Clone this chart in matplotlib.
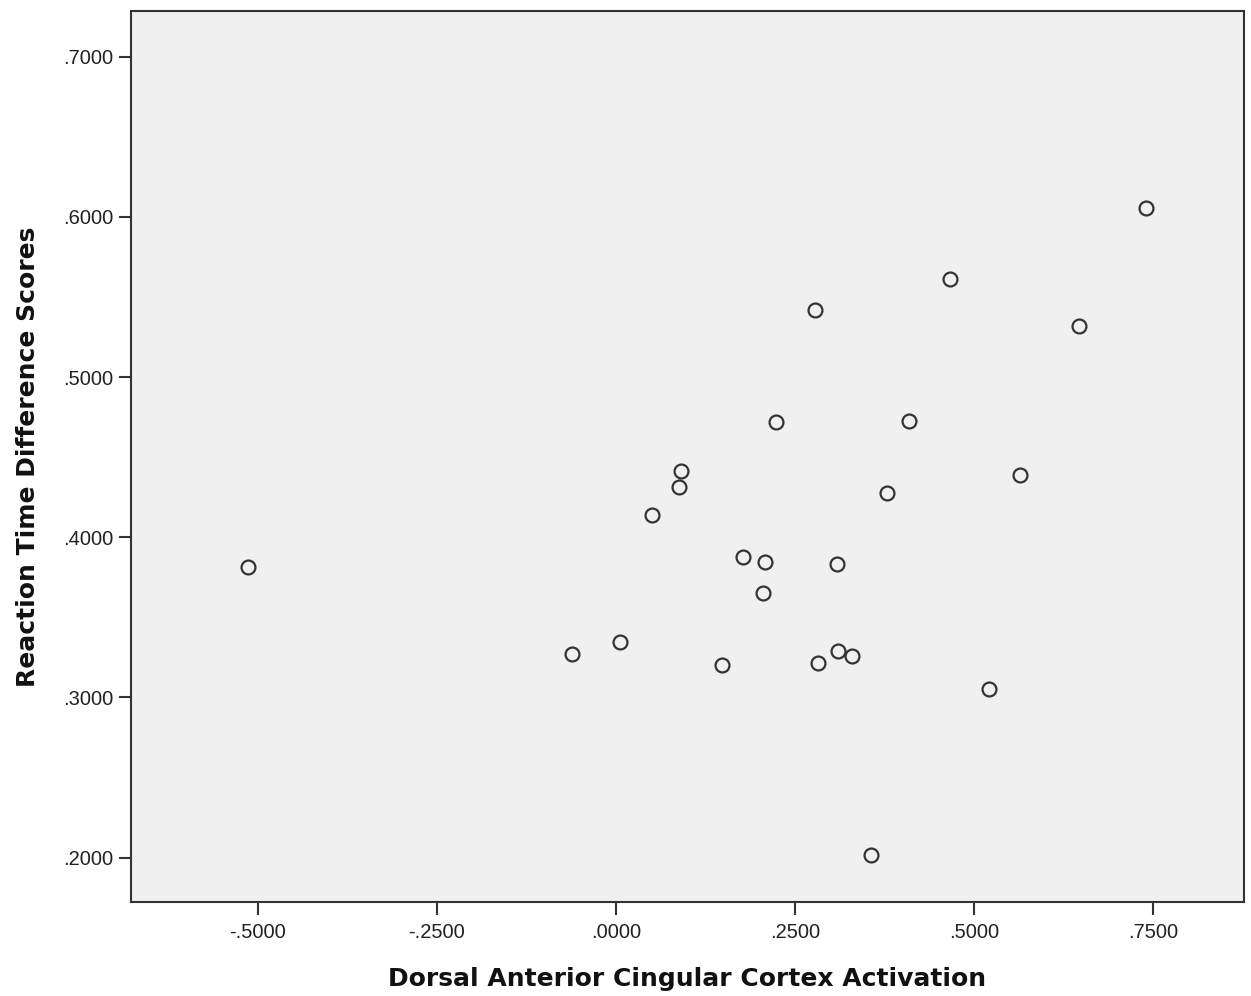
import matplotlib
matplotlib.use("Agg")
import matplotlib.pyplot as plt
from matplotlib.ticker import FixedLocator, FuncFormatter

dacc_activation = [-0.514, -0.0615, 0.0056, 0.0503, 0.0876, 0.0904, 0.1485, 0.1778,
                   0.2081, 0.2057, 0.2235, 0.2779, 0.2817, 0.3082, 0.3105, 0.3292,
                   0.3561, 0.3785, 0.4092, 0.4665, 0.5209, 0.5642, 0.6466, 0.7402]
rt_difference = [0.3815, 0.3270, 0.3348, 0.4139, 0.4316, 0.4412, 0.3203, 0.3879,
                 0.3844, 0.3652, 0.4720, 0.5419, 0.3213, 0.3833, 0.3292, 0.3259,
                 0.2017, 0.4277, 0.4726, 0.5612, 0.3053, 0.4389, 0.5319, 0.6056]

x_ticks = [-0.5, -0.25, 0.0, 0.25, 0.5, 0.75]
y_ticks = [0.2, 0.3, 0.4, 0.5, 0.6, 0.7]

def spss_fmt(v, pos=None):
    s = f"{v:.4f}"
    if s.startswith("-0"):
        return "-" + s[2:]
    if s.startswith("0"):
        return s[1:]
    return s

plt.rcParams['font.family'] = ['Liberation Sans', 'DejaVu Sans']

fig = plt.figure(figsize=(12.51, 9.96), dpi=100)
ax = fig.add_axes([131/1251, 94/996, (1244-131)/1251, (902-11)/996])
ax.set_facecolor('#f0f0f0')

ax.plot(dacc_activation, rt_difference, linestyle='none', marker='o',
        markersize=10, markerfacecolor='none', markeredgecolor='#333333',
        markeredgewidth=1.6)

ax.set_xlim(-0.677, 0.877)
ax.set_ylim(0.1723, 0.7285)
ax.xaxis.set_major_locator(FixedLocator(x_ticks))
ax.yaxis.set_major_locator(FixedLocator(y_ticks))
ax.xaxis.set_major_formatter(FuncFormatter(spss_fmt))
ax.yaxis.set_major_formatter(FuncFormatter(spss_fmt))

for sp in ax.spines.values():
    sp.set_color('#333333')
    sp.set_linewidth(1.5)
ax.tick_params(axis='both', direction='out', length=9, width=1.5, color='#333333',
               labelsize=14.5, labelcolor='#222222', pad=4)
ax.tick_params(axis='x', pad=6)

label_font = dict(fontsize=18, fontweight='bold', color='#111111',
                  family=['DejaVu Sans'])
ax.set_xlabel('Dorsal Anterior Cingular Cortex Activation', labelpad=18, **label_font)
ax.set_ylabel('Reaction Time Difference Scores', labelpad=16, **label_font)

fig.savefig('out.png', dpi=100, facecolor='white')
